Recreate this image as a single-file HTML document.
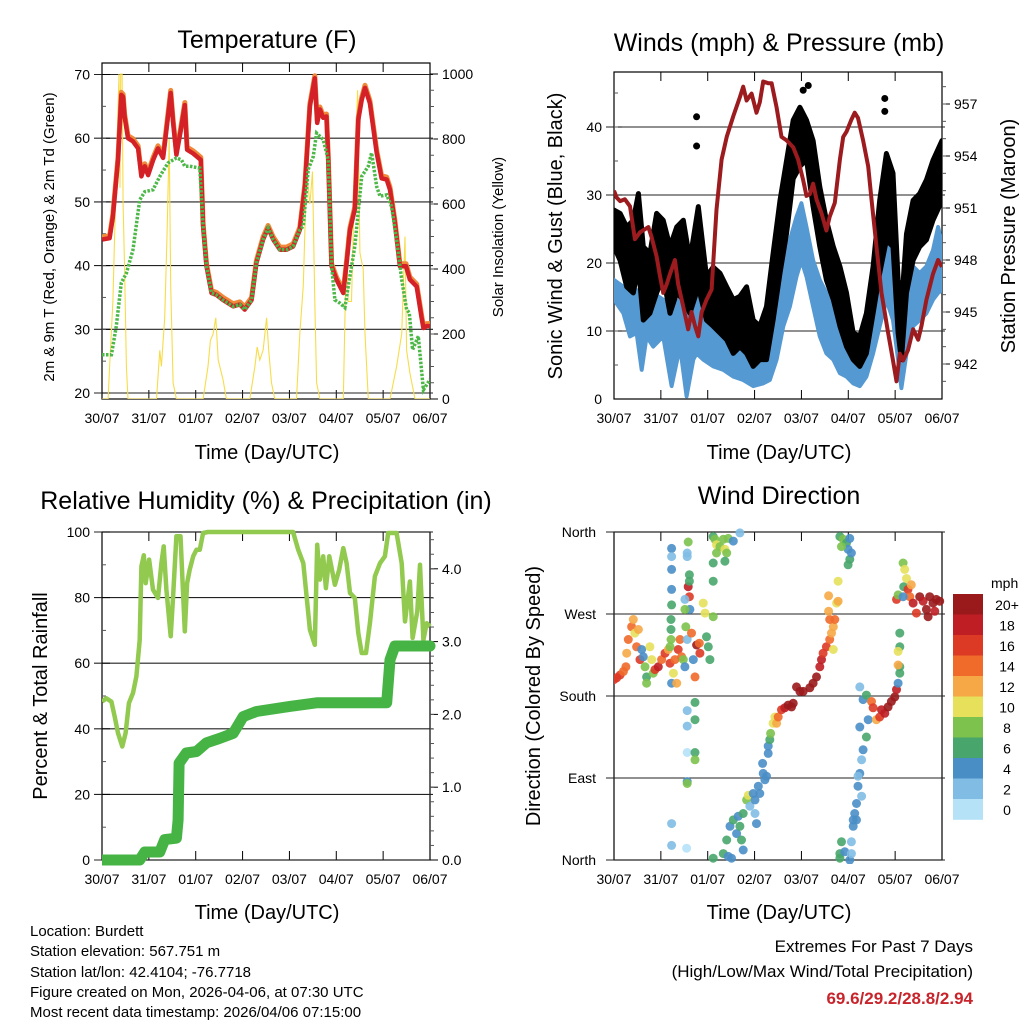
<!DOCTYPE html>
<html><head><meta charset="utf-8"><style>
html,body{margin:0;padding:0;background:#fff;}
svg{display:block;font-family:"Liberation Sans",sans-serif;}
</style></head><body>
<svg id="chart" width="1024" height="1024" viewBox="0 0 1024 1024" xmlns="http://www.w3.org/2000/svg">
<defs>
<clipPath id="c1"><rect x="102" y="63" width="328" height="336"/></clipPath>
<clipPath id="c2"><rect x="614" y="72" width="328" height="327"/></clipPath>
<clipPath id="c3"><rect x="102" y="526" width="340" height="340"/></clipPath>
<clipPath id="c4"><rect x="614" y="526" width="334" height="338"/></clipPath>
</defs>
<g id="axes"></g>
<g id="data"></g>
<g id="texts" font-size="15" fill="#000">
<text x="267" y="48" font-size="25" text-anchor="middle">Temperature (F)</text>
<text x="779" y="51" font-size="25" text-anchor="middle">Winds (mph) &amp; Pressure (mb)</text>
<text x="266" y="509" font-size="25" text-anchor="middle">Relative Humidity (%) &amp; Precipitation (in)</text>
<text x="779" y="504" font-size="25" text-anchor="middle">Wind Direction</text>
<text x="267" y="459" font-size="20" text-anchor="middle">Time (Day/UTC)</text>
<text x="779" y="459" font-size="20" text-anchor="middle">Time (Day/UTC)</text>
<text x="267" y="919" font-size="20" text-anchor="middle">Time (Day/UTC)</text>
<text x="779" y="919" font-size="20" text-anchor="middle">Time (Day/UTC)</text>
<text transform="translate(54,237) rotate(-90)" font-size="15" text-anchor="middle">2m &amp; 9m T (Red, Orange) &amp; 2m Td (Green)</text>
<text transform="translate(503,237) rotate(-90)" font-size="15" text-anchor="middle">Solar Insolation (Yellow)</text>
<text transform="translate(562,236) rotate(-90)" font-size="20" text-anchor="middle">Sonic Wind &amp; Gust (Blue, Black)</text>
<text transform="translate(1015,236) rotate(-90)" font-size="20" text-anchor="middle">Station Pressure (Maroon)</text>
<text transform="translate(47,696) rotate(-90)" font-size="20" text-anchor="middle">Percent &amp; Total Rainfall</text>
<text transform="translate(540,696) rotate(-90)" font-size="20" text-anchor="middle">Direction (Colored By Speed)</text>
<text x="30" y="936">Location: Burdett</text>
<text x="30" y="956">Station elevation: 567.751 m</text>
<text x="30" y="977">Station lat/lon: 42.4104; -76.7718</text>
<text x="30" y="997">Figure created on Mon, 2026-04-06, at 07:30 UTC</text>
<text x="30" y="1017">Most recent data timestamp: 2026/04/06 07:15:00</text>
<text x="973" y="952" font-size="17" text-anchor="end">Extremes For Past 7 Days</text>
<text x="973" y="977" font-size="17" text-anchor="end">(High/Low/Max Wind/Total Precipitation)</text>
<text x="973" y="1004" font-size="17" font-weight="bold" fill="#c8242b" text-anchor="end">69.6/29.2/28.8/2.94</text>
<text x="991" y="588" font-size="14">mph</text>
</g>
</svg>
<script>
// ---------- DATA ----------
const dayLabels = ['30/07','31/07','01/07','02/07','03/07','04/07','05/07','06/07'];
// Temperature (red)
const tempH = [0,3.9,5.6,8.2,9.9,10.8,11.6,13.3,15.9,18.5,20.2,21.9,23.6,26.2,28.7,31.3,33,35.2,36.4,38.1,40.2,42.4,43.6,46.7,50.6,51.8,53.5,56.1,58.6,62,67.2,70.6,73.1,76.6,79.1,82.5,85.1,87.7,91.1,94.5,97.9,101.3,103.9,106.5,109,110.2,111.6,113.3,115,115.9,117.6,120.1,123.6,125.3,127,129.5,131.3,133,134.7,137.2,140.7,143.2,145.8,147.5,150,152.6,155.7,157.7,161.2,163.7,164.6,166.3,168];
const tempV = [44.1,44.3,47.7,56.6,66.8,66.5,63.4,60,59.5,58.4,54,55.6,54.2,56.6,58.4,56.9,61.3,67.1,62.5,57.4,61,65.2,58.2,57.6,56.6,46.2,39.9,35.7,35.4,34.6,33.6,33.9,33.1,34.6,40.4,44.1,45.9,44.1,42.5,42.5,43,45.6,52.4,65,69.4,62.4,64.5,63.2,63.4,56.6,39.9,37.8,35.7,40.4,45.6,48.8,62.9,66,67.9,65.5,57.7,53.7,53.5,51.9,46.7,39.9,39.9,37.8,36.7,31.8,30.2,30.5,30.5];
// Dewpoint (green)
const dewH = [0,4.8,7.3,9.9,12.5,15.9,19.3,21.9,26.1,29.6,33.8,38.1,40.7,42.4,44.9,50.1,51.8,53.5,56.1,58.6,62,67.2,70.6,73.1,76.6,79.1,82.5,85.1,87.7,91.1,94.5,97.9,101.3,103.1,105.6,108.2,109.9,113.3,115.9,117.6,119.3,121.9,124.4,126.1,129.5,133,136.4,138.1,140.7,142.4,145.8,148.3,150.9,153.5,156,157.4,159.1,162,164.6,168];
const dewV = [26,26,30.5,37.3,38.8,42.5,50.3,51.6,51.9,54,56.1,56.9,56.6,55.6,55.6,55.3,46.2,39.9,35.7,35.4,34.6,33.6,33.9,33.1,34.6,40.4,44.1,45.9,44.1,42.5,42.5,43,45.6,46.2,55.1,57.1,60.8,59.8,56.6,39.9,34.6,34.1,33.4,36.7,43,54,55.6,57.7,52.4,50.9,51.1,49.3,44.1,37.8,33.1,32.6,26.8,28.9,20.5,22.1];
// Solar insolation (yellow)
const solH = [0,3.1,3.9,5.6,7.3,8.7,9.2,9.6,10.3,10.8,11.6,12.5,13.3,27.9,29.6,30.4,32.1,33.3,34.4,35.2,36.4,38.1,51.8,54.3,55.5,56.9,58.3,59.5,62,63.7,75.7,78.3,79.5,80.8,82.5,84.3,85.4,86.8,88.5,99.6,101.3,103.1,104.8,106.5,107.8,109,109.9,111.6,123.6,125.3,126.1,127.8,129.5,130.9,132.1,133.8,134.7,136.4,147.5,150.9,153.5,155.2,156,157.7,160.3,168];
const solV = [0,0,100,300,700,1000,650,1000,1000,600,400,100,0,0,150,100,250,500,800,350,50,0,0,100,180,200,250,120,60,0,0,100,160,120,150,250,150,50,0,0,200,350,700,600,700,300,50,0,0,500,300,300,700,950,450,400,200,0,0,100,200,500,150,80,0,0];
// Station pressure (maroon)
const presH = [0,1.4,3.1,5.6,8.2,10.7,13.3,17.6,19.3,21.8,23.5,25.2,27,28.7,31.2,32.9,35.5,38,39.7,41.5,43.2,44.9,47.4,50,52.5,55.1,57.7,61.1,64.5,66.2,67.9,70.5,73,74.7,76.4,79,80.7,83.3,85.8,88.4,91.8,94.3,96.9,98.6,100.3,102,103.7,106.3,108.8,110.5,113.1,115.7,117.4,119.1,121.6,123.3,125,127.6,130.2,131.9,134.4,137,140.4,142.9,144.7,146.4,148.1,150.6,153.2,155.8,157.5,160,163.4,166,168];
const presV = [952,951.6,951.4,951.5,951.1,949.2,949.6,949.9,949.3,948.2,947.1,946.1,946.6,947.2,948,946.6,945.3,944,945,944.2,943.6,945,945.7,946.3,950.9,953.8,955.1,956.3,957.4,958,957.2,957.6,956.5,957.1,958.3,958.2,958.2,956.8,955.1,954.9,954.5,953.8,952.6,951.7,951.8,952.4,951.5,950.7,949.7,950.5,951.3,953.8,955.1,955.4,956.1,956.5,956.2,954.9,953.4,951.5,948.8,946.1,943.8,942.2,941,942.6,942.2,942.8,944,943.4,944.2,945.7,947.2,948,947.6];
// Sonic wind (blue) envelope
const windH = [0,4.8,8.2,11.6,14.2,16.7,20.1,25.2,29.5,33.8,37.2,40.6,42.3,45.7,50.8,56,61.1,66.2,71.3,76.4,79.8,83.3,86.7,90.1,93.5,96,98.6,102,105.4,108.8,112.3,115.7,119.1,122.5,125.9,129.3,132.7,136.1,139.5,142.9,145.5,147.2,149.8,153.2,156.6,160,163.4,166,168];
const windHi = [17.5,16.5,15.6,16,14.6,16,15.6,14.6,14,14.6,15.6,18,20.9,14,13.1,11.6,10.7,9.7,10.2,10.2,12.6,17.5,21.4,23.4,26.8,28.8,25.3,20.4,17.5,15.6,13.1,11.6,10.7,9.2,8.7,10.7,15.6,20.4,26.3,22.4,18,14.6,15.6,19.5,18.5,19.5,21.9,25.3,22.9];
const windLo = [14.6,12.6,9.2,9.7,4.3,9.2,7.7,9.2,1.9,7.7,0.4,5.8,6.7,5.8,4.8,4.3,3.3,2.8,1.9,2.3,2.8,5.8,10.7,13.6,18,20.4,18,13.6,9.2,6.7,5.8,3.8,3.3,2.3,1.9,3.3,6.7,10.7,14.6,11.6,5.8,1.6,6.7,10.7,11.6,12.6,14.6,15.6,16];
// Gust (black) envelope
const gustH = [0,3.1,6.5,9.9,12.5,15,18.4,21.8,25.2,28.7,32.1,35.5,38.9,43.2,47.4,50.8,54.3,57.7,61.1,64.5,67.9,71.3,74.7,78.1,81.5,85,88.4,91.8,95.2,98.6,102,105.4,108.8,112.3,115.7,119.1,122.5,125.9,129.3,132.7,136.1,139.5,142.9,145.5,147.2,149.8,153.2,156.6,160,163.4,168];
const gustHi = [27.8,27.3,25.3,26.3,30.2,22.4,21.4,27.3,26.3,22.4,25.3,26.3,20.4,28.3,18,19.4,18.5,16.5,14.6,15.1,16.5,11.6,10.7,13.6,21.4,29.2,35.1,41,42.9,41,38,31.2,26.3,22.4,19.5,15.6,9.7,9.2,12.6,19.5,29.2,36.1,33.2,17.5,13.6,24.3,29.2,30.2,32.2,35.1,38];
const gustLo = [22.4,20.4,16.5,15.6,19.5,11.6,12.6,15.6,18,12.6,15.6,14.6,12.6,16.5,11.6,10.7,9.7,8.7,6.7,7.7,6.7,4.8,5.8,5.8,11.6,18.5,24.4,32.4,34.2,35.2,28.3,22.4,17.5,14.6,10.7,7.7,5.8,4.8,6.7,12.6,18.5,23.4,22.4,9.7,5.8,15.6,20.4,22.4,23.4,26.3,29.2];
const gustOutH = [42.3,42.3,96.9,99.5,138.7,138.7];
const gustOutV = [41.5,37.2,45.4,46.1,44.2,42.3];
// Relative humidity
const rhH = [0,2.2,4.8,6.5,8.2,10.4,12.1,13.8,15.9,17.6,19.3,20.2,21.4,22.4,24.1,26.1,28.7,30.4,31.6,33,35.2,36.4,38.1,40.2,42.4,43.6,44.9,46.7,48.4,50.1,51.8,54.3,97.9,100.5,103.1,106.5,109,110.2,111.6,113.3,114.7,116.4,119.3,121.5,123.6,125.3,127,129.5,131.3,133,135.2,137.2,139.8,142.4,144.9,146.6,150.9,153.5,155.2,157.7,159.1,161.5,162.9,164.6,166.3,168];
const rhV = [48.3,49.3,48.3,43.7,38.7,34.6,38.7,47.8,50.9,56,67.1,89.5,92.9,84.4,91.6,82.4,79.9,90.5,95.6,82.4,68.2,80.4,98.7,98.7,69.7,84.4,88.5,92.6,94.6,94.6,99.7,100,100,94.6,90.5,70.2,65.6,96.1,85.5,92.6,82.9,92.6,83.9,88.5,95.1,90.5,81.4,79.9,69.2,63.1,63.1,72.2,86.5,90.5,92.6,99.7,99.7,90.5,72.7,84.9,67.7,75.8,90,67.1,72.2,71.2];
// Total rainfall
const rainH = [0,19.3,21.9,29.6,32.1,38.1,39,39.5,43.2,48.4,53.5,60.3,67.2,72.3,79.1,96.2,109.9,145.8,147.5,150,168];
const rainV = [0,0,0.11,0.11,0.28,0.3,0.55,1.33,1.47,1.49,1.61,1.67,1.74,1.97,2.04,2.11,2.16,2.16,2.75,2.94,2.94];
// Wind direction: hour, degrees (0=N bottom, 360=N top), speed mph
const dirH = [0,1.4,3.1,4.8,6.1,6.5,7.3,9,9.9,10.7,11.6,12.5,13.3,14.2,15,15.9,16.7,16.7,18.4,19.3,20.1,21,22.7,24.4,26.1,27.8,28.7,29.5,30.4,31.2,32.1,32.9,33.8,34.6,35.5,36.3,36.8,37.5,38,38.6,38.9,39.7,40.6,41.5,42.3,43.7,44,45.7,46.6,47.4,48.3,49.1,50.8,
29.5,29.5,29.5,29.5,29.5,29.2,29.2,29.2,28.7,29.5,29.5,
37.5,37.5,36.3,36.3,37.5,37.5,37.5,37.5,37.5,38.6,38.6,41.5,41.5,41.5,41.5,38,37.2,
50.8,51.7,52.5,54.3,56,56.8,57.7,52.5,50.8,56.8,58.5,61.1,64.5,50.8,
50.8,56,58.5,60.2,57.7,59.4,61.1,62.8,64.5,65.3,66.2,63.6,66.2,67.9,68.8,69.6,71.3,72.2,73,72.2,73.9,74.7,76.4,78.1,77.3,76.1,79,79,79.8,80.2,81.5,82.4,83.3,84.1,85.8,87.5,89.2,90.9,91.8,
93.5,95.2,96.9,100.3,102,103.7,105.4,106.3,107.1,108.8,110.5,111.4,112.3,113.1,110.5,112.3,109.9,114,114.8,109.9,114.8,
115.7,117.4,119.1,120.8,119.9,120.8,119.9,116.5,121.6,
116.5,115.7,115.7,118.2,120.8,121.6,121.6,
122.5,123.3,124.2,125,125.9,126.8,127.6,129.3,130.2,125.9,127.6,129.3,125.9,125,126.8,124.2,122.5,131.9,132.7,134.4,136.1,137,138.7,140.4,142.1,143.8,144.7,145.5,146.4,146.4,145.5,146.4,146.4,145.5,148.1,148.9,148.4,149.8,150.6,151.5,153.2,154.9,156.6,158.3,160,160.9,161.7,163.4,165.1,166.8,164.3,144.7,145.5,148.1,152.3];
const dirD = [198,200,203,207,212,227,242,256,264,249,234,253,220,231,223,212,201,194,234,220,205,209,212,220,227,231,216,194,205,220,194,231,242,223,220,212,256,242,300,289,275,249,220,201,236,238,227,282,271,245,234,220,267,
342,333,319,297,280,264,253,242,234,40,16,
337,333,286,275,164,147,118,86,84,313,306,173,154,118,110,349,13,
355,352,346,344,352,341,337,337,326,328,353,350,359,306,
2,7,4,2,22,37,44,29,37,22,11,48,51,66,71,59,73,51,40,66,81,73,95,92,88,106,117,125,132,139,150,157,150,157,165,167,170,168,172,
190,185,185,189,194,201,212,220,227,234,242,249,256,264,264,231,273,282,306,290,284,
355,352,348,353,341,330,324,344,337,
20,7,2,9,0,20,7,
37,51,62,81,95,110,121,135,154,190,176,181,146,92,70,44,44,174,167,154,157,165,161,168,174,179,187,194,205,212,214,234,249,229,326,319,300,309,297,289,282,271,289,284,275,267,289,282,286,284,273,286,291,289,302];
const dirS = [16,16,16,14,14,12,14,14,12,10,14,12,16,4,4,8,6,8,10,10,8,16,18,14,16,12,16,4,10,14,12,16,14,14,8,4,8,2,18,16,4,14,4,14,20,14,16,10,10,6,6,6,8,
4,2,4,4,6,6,6,8,8,2,2,
2,2,2,8,2,2,0,4,8,6,6,6,6,6,8,8,0,
6,8,10,8,8,10,8,8,6,6,8,4,2,6,
6,6,4,4,6,4,6,4,6,6,4,4,6,8,10,2,4,2,4,4,4,4,4,4,4,4,4,4,6,8,10,10,12,14,16,18,20,20,20,
20,20,20,20,20,20,18,18,16,16,14,12,12,14,14,10,12,10,10,12,12,
6,8,6,4,4,6,6,8,4,
6,6,6,4,4,2,2,
4,4,4,4,4,2,4,6,4,2,4,6,4,2,2,4,4,14,16,12,16,18,18,20,20,20,18,4,6,6,12,6,6,10,8,10,6,10,16,14,18,16,20,18,20,20,20,20,20,20,18,16,8,4,12];
const speedLabels = ['0','2','4','6','8','10','12','14','16','18','20+'];
const speedColors = ['#b6e2f8','#80bce4','#4a8ec6','#48a66c','#7cc24c','#e6e05a','#f6a846','#f06a2a','#dd3a26','#be1e24','#9a1a1c'];

// ---------- HELPERS ----------
const NS='http://www.w3.org/2000/svg';
const axesG=document.getElementById('axes');
const dataG=document.getElementById('data');
function el(tag,attrs,parent){const e=document.createElementNS(NS,tag);for(const k in attrs)e.setAttribute(k,attrs[k]);(parent||dataG).appendChild(e);return e;}
function lin(d0,d1,r0,r1){return v=>r0+(v-d0)*(r1-r0)/(d1-d0);}
function pathFrom(xs,ys,sx,sy){let d='';for(let i=0;i<xs.length;i++){d+=(i?'L':'M')+sx(xs[i]).toFixed(1)+' '+sy(ys[i]).toFixed(1);}return d;}
function bandPath(xs,hi,lo,sx,sy){let d='';for(let i=0;i<xs.length;i++)d+=(i?'L':'M')+sx(xs[i]).toFixed(1)+' '+sy(hi[i]).toFixed(1);for(let i=xs.length-1;i>=0;i--)d+='L'+sx(xs[i]).toFixed(1)+' '+sy(lo[i]).toFixed(1);return d+'Z';}

const panels={
 p1:{x0:102,x1:430,y0:63,y1:399},
 p2:{x0:614,x1:942,y0:72,y1:399},
 p3:{x0:102,x1:430,y0:532,y1:860},
 p4:{x0:614,x1:942,y0:532,y1:860}
};
function frame(p,name){
  const r=el('rect',{x:p.x0,y:p.y0,width:p.x1-p.x0,height:p.y1-p.y0,fill:'none',stroke:'#000','stroke-width':1.2},axesG);
  
  
  const sx=lin(0,168,p.x0,p.x1);
  for(let i=0;i<dayLabels.length;i++){
    const x=sx(i*24);
    el('line',{x1:x,y1:p.y1,x2:x,y2:p.y1-9,stroke:'#000','stroke-width':1},axesG);
    el('line',{x1:x,y1:p.y0,x2:x,y2:p.y0+9,stroke:'#000','stroke-width':1},axesG);
    const t=el('text',{x:x,y:p.y1+24,'font-size':14,'text-anchor':'middle'},axesG);
    
    
    t.textContent=dayLabels[i];
  }
  return sx;
}
function grid(p,ys,ext){ys.forEach(y=>{el('line',{x1:p.x0-(ext||8),y1:y,x2:p.x1+3,y2:y,stroke:'#222','stroke-width':1.1},axesG);});}
function yTicks(p,vals,sy,side,fmt,minor){
  vals.forEach(v=>{const y=sy(v);
    const t=el('text',{x:side==='L'?p.x0-12:p.x1+12,y:y+5,'font-size':14,'text-anchor':side==='L'?'end':'start'},axesG);
    
    
    t.textContent=fmt(v);
    if(side==='L')el('line',{x1:p.x0,y1:y,x2:p.x0+8,y2:y,stroke:'#000'},axesG);
    else el('line',{x1:p.x1,y1:y,x2:p.x1+8,y2:y,stroke:'#000'},axesG);
  });
  (minor||[]).forEach(v=>{const y=sy(v);
    if(side==='L')el('line',{x1:p.x0,y1:y,x2:p.x0+4,y2:y,stroke:'#555'},axesG);
    else el('line',{x1:p.x1,y1:y,x2:p.x1+4,y2:y,stroke:'#555'},axesG);});
}
function range(a,b,s){const r=[];for(let v=a;v<=b+1e-9;v+=s)r.push(+v.toFixed(3));return r;}

// ---------- PANEL 1: Temperature ----------
(function(){
  const p=panels.p1;const sx=frame(p,'temperature');
  const sy=lin(20,70,393,74.5);const ss=lin(0,1000,399,74);
  grid(p,[20,30,40,50,60,70].map(sy));
  yTicks(p,[20,30,40,50,60,70],sy,'L',v=>v,range(25,65,5));
  yTicks(p,[0,200,400,600,800,1000],ss,'R',v=>v,range(50,950,50));
  const g=el('g',{'clip-path':'url(#c1)'});
  const sol=el('path',{d:pathFrom(solH,solV,sx,ss),fill:'none',stroke:'#f7dc4a','stroke-width':1.1},g);
  
  
  const or=el('path',{d:pathFrom(tempH,tempV.map(v=>v+0.4),sx,sy),fill:'none',stroke:'#f08a3a','stroke-width':5,'stroke-linejoin':'round'},g);
  
  
  const red=el('path',{d:pathFrom(tempH,tempV,sx,sy),fill:'none',stroke:'#d42027','stroke-width':4.5,'stroke-linejoin':'round'},g);
  
  
  const dew=el('path',{d:pathFrom(dewH,dewV,sx,sy),fill:'none',stroke:'#4db848','stroke-width':3.5,'stroke-dasharray':'2.5 1.5'},g);
  
  
})();

// ---------- PANEL 2: Winds & Pressure ----------
(function(){
  const p=panels.p2;const sx=frame(p,'winds');
  const sy=lin(0,40,399,127);const sp=lin(957,942,104,364);
  grid(p,[10,20,30,40].map(sy));
  yTicks(p,[0,10,20,30,40],sy,'L',v=>v,range(5,45,5));
  yTicks(p,[942,945,948,951,954,957],sp,'R',v=>v,range(941,958,1));
  const g=el('g',{'clip-path':'url(#c2)'});
  const wb=el('path',{d:bandPath(windH,windHi,windLo,sx,sy),fill:'#5599d3',stroke:'#5599d3','stroke-width':4,'stroke-linejoin':'round'},g);
  
  
  const gb=el('path',{d:bandPath(gustH,gustHi,gustLo,sx,sy),fill:'#000',stroke:'#000','stroke-width':5,'stroke-linejoin':'round'},g);
  
  
  for(let i=0;i<gustOutH.length;i++){
    const c=el('circle',{cx:sx(gustOutH[i]),cy:sy(gustOutV[i]),r:3.5,fill:'#000'},g);
    
    
  }
  const pr=el('path',{d:pathFrom(presH,presV,sx,sp),fill:'none',stroke:'#9b1b1e','stroke-width':4,'stroke-linejoin':'round'},g);
  
  
})();

// ---------- PANEL 3: RH & Precip ----------
(function(){
  const p=panels.p3;const sx=frame(p,'humidity');
  const sy=lin(0,100,860,532);const sr=lin(0,4,860,568.8);
  grid(p,[0,20,40,60,80,100].map(sy));
  yTicks(p,[0,20,40,60,80,100],sy,'L',v=>v,range(10,90,20));
  yTicks(p,[0,1,2,3,4],sr,'R',v=>v.toFixed(1),range(0.2,4.4,0.2));
  const g=el('g',{'clip-path':'url(#c3)'});
  const rh=el('path',{d:pathFrom(rhH,rhV,sx,sy),fill:'none',stroke:'#92c94f','stroke-width':4.5,'stroke-linejoin':'round'},g);
  
  
  const rn=el('path',{d:pathFrom(rainH,rainV,sx,sr),fill:'none',stroke:'#46b445','stroke-width':11,'stroke-linejoin':'round','stroke-linecap':'round'},g);
  
  
})();

// ---------- PANEL 4: Wind Direction ----------
(function(){
  const p=panels.p4;const sx=frame(p,'wind-direction');
  const sy=lin(0,360,860,532);
  grid(p,[0,90,180,270,360].map(sy),8);
  const names=['North','East','South','West','North'];
  [0,90,180,270,360].forEach((v,i)=>{
    const t=el('text',{x:p.x0-18,y:sy(v)+5,'font-size':14,'text-anchor':'end'},axesG);
    
    
    t.textContent=names[i];
  });
  const g=el('g',{'clip-path':'url(#c4)'});
  for(let i=0;i<dirH.length;i++){
    const idx=Math.min(10,Math.floor(dirS[i]/2));
    const c=el('circle',{cx:sx(dirH[i]).toFixed(1),cy:sy(dirD[i]).toFixed(1),r:4.5,fill:speedColors[idx],'fill-opacity':0.9},g);
    
    
  }
  // colorbar
  const cb0=594,cbh=20.5;
  for(let i=0;i<speedLabels.length;i++){
    const k=speedLabels.length-1-i;
    const r=el('rect',{x:953,y:cb0+i*cbh,width:30,height:cbh+0.3,fill:speedColors[k]},axesG);
    
    
    const t=el('text',{x:1007,y:cb0+i*cbh+16,'font-size':14,'text-anchor':'middle'},axesG);
    
    
    t.textContent=speedLabels[k];
  }
})();
</script>
</body></html>
